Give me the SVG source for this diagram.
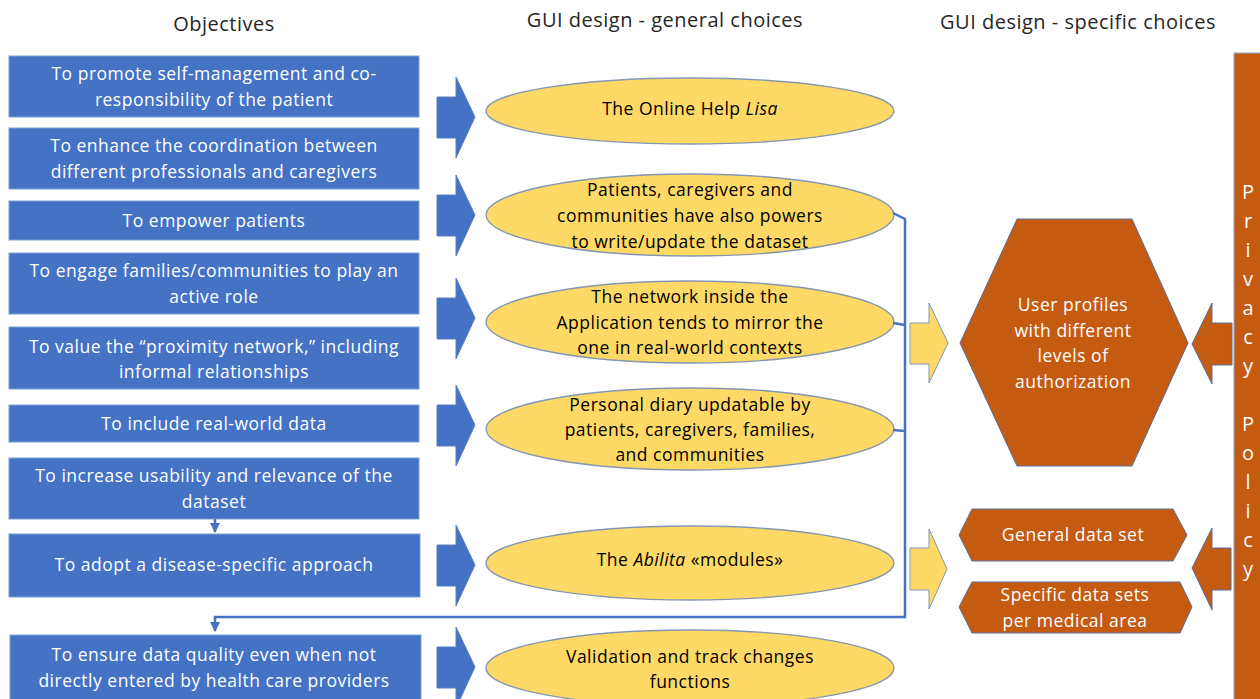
<svg xmlns="http://www.w3.org/2000/svg" width="1260" height="699" viewBox="0 0 1260 699">
<defs>
<style>
.hdr{font-family:"Open Sans","Liberation Sans",sans-serif;font-size:20px;fill:#262626;text-anchor:middle;letter-spacing:0.5px}
.box{fill:#4472C4;stroke:#7F9FD6;stroke-width:1}
.bt{font-family:"Open Sans","Liberation Sans",sans-serif;font-size:17.5px;fill:#ffffff;text-anchor:middle;letter-spacing:0.5px}
.ell{fill:#FFD966;stroke:#8497B0;stroke-width:1.3}
.et{font-family:"Open Sans","Liberation Sans",sans-serif;font-size:17.5px;fill:#000000;text-anchor:middle;letter-spacing:0.5px}
.barw{fill:#4472C4;stroke:#5B7FC0;stroke-width:1}
.ya{fill:#FFD966;stroke:#8497B0;stroke-width:1}
.org{fill:#C55A11;stroke:#5B6E9C;stroke-width:1}
.ot{font-family:"Open Sans","Liberation Sans",sans-serif;font-size:17.5px;fill:#ffffff;text-anchor:middle;letter-spacing:0.5px}
.pt{font-family:"Open Sans","Liberation Sans",sans-serif;font-size:20px;fill:#ffffff;text-anchor:middle}
.con{fill:none;stroke:#4472C4;stroke-width:2.5}
</style>
<marker id="ah" viewBox="0 0 10 10" refX="9" refY="5" markerWidth="4" markerHeight="4" orient="auto" markerUnits="strokeWidth">
<path d="M0,0 L10,5 L0,10 z" fill="#4472C4"/>
</marker>
</defs>
<rect width="1260" height="699" fill="#ffffff"/>

<g id="headers">
<text class="hdr" x="224" y="31">Objectives</text>
<text class="hdr" x="665" y="27">GUI design - general choices</text>
<text class="hdr" x="1078" y="29">GUI design - specific choices</text>
</g>

<g id="obj1"><rect class="box" x="9" y="56" width="410" height="61"/>
<text class="bt" x="214" y="80">To promote self-management and co-</text>
<text class="bt" x="214" y="106">responsibility of the patient</text></g>
<g id="obj2"><rect class="box" x="9" y="128" width="410" height="61"/>
<text class="bt" x="214" y="152">To enhance the coordination between</text>
<text class="bt" x="214" y="178">different professionals and caregivers</text></g>
<g id="obj3"><rect class="box" x="9" y="201" width="410" height="39"/>
<text class="bt" x="214" y="227">To empower patients</text></g>
<g id="obj4"><rect class="box" x="9" y="253" width="410" height="61"/>
<text class="bt" x="214" y="277">To engage families/communities to play an</text>
<text class="bt" x="214" y="303">active role</text></g>
<g id="obj5"><rect class="box" x="9" y="327" width="410" height="62"/>
<text class="bt" x="214" y="353">To value the “proximity network,” including</text>
<text class="bt" x="214" y="378">informal relationships</text></g>
<g id="obj6"><rect class="box" x="9" y="405" width="410" height="37"/>
<text class="bt" x="214" y="430">To include real-world data</text></g>
<g id="obj7"><rect class="box" x="9" y="458" width="410" height="61"/>
<text class="bt" x="214" y="482">To increase usability and relevance of the</text>
<text class="bt" x="214" y="508">dataset</text></g>
<g id="obj8"><rect class="box" x="9" y="534" width="411" height="63"/>
<text class="bt" x="214" y="571">To adopt a disease-specific  approach</text></g>
<g id="obj9"><rect class="box" x="10" y="635" width="411" height="70"/>
<text class="bt" x="214" y="661">To ensure data quality even when not</text>
<text class="bt" x="214" y="687">directly entered by health care providers</text></g>

<g id="blue-arrows">
<path class="barw" d="M437,97 H456 V77 L475,117 L456,158 V138 H437 Z"/>
<path class="barw" d="M437,195 H456 V175 L475,215 L456,256 V236 H437 Z"/>
<path class="barw" d="M437,298 H456 V278 L475,318 L456,359 V339 H437 Z"/>
<path class="barw" d="M437,405 H456 V385 L475,425 L456,466 V446 H437 Z"/>
<path class="barw" d="M437,545 H456 V525 L475,565 L456,606 V586 H437 Z"/>
<path class="barw" d="M437,647 H456 V627 L475,667 L456,708 V688 H437 Z"/>
</g>

<g id="gen1"><ellipse class="ell" cx="690" cy="111" rx="204" ry="33"/>
<text class="et" x="690" y="115">The Online Help <tspan font-style="italic">Lisa</tspan></text></g>
<g id="gen2"><ellipse class="ell" cx="690" cy="215" rx="204" ry="41"/>
<text class="et" x="690" y="196">Patients, caregivers and</text>
<text class="et" x="690" y="222">communities have also powers</text>
<text class="et" x="690" y="248">to write/update the dataset</text></g>
<g id="gen3"><ellipse class="ell" cx="690" cy="322" rx="204" ry="41"/>
<text class="et" x="690" y="303">The network inside the</text>
<text class="et" x="690" y="329">Application tends to mirror the</text>
<text class="et" x="690" y="354">one in real-world contexts</text></g>
<g id="gen4"><ellipse class="ell" cx="690" cy="429" rx="204" ry="41"/>
<text class="et" x="690" y="411">Personal diary updatable by</text>
<text class="et" x="690" y="436">patients, caregivers, families,</text>
<text class="et" x="690" y="461">and communities</text></g>
<g id="gen5"><ellipse class="ell" cx="690" cy="563" rx="204" ry="37"/>
<text class="et" x="690" y="566">The <tspan font-style="italic">Abilita</tspan> «modules»</text></g>
<g id="gen6"><ellipse class="ell" cx="690" cy="668" rx="204" ry="38"/>
<text class="et" x="690" y="663">Validation and track changes</text>
<text class="et" x="690" y="688">functions</text></g>

<g id="connectors">
<path class="con" d="M893,213 L905,219 V617 H215 V631" marker-end="url(#ah)"/>
<path class="con" d="M893,323 L905,325"/>
<path class="con" d="M893,430 L905,431"/>
<path class="con" d="M215,519 V532" stroke-width="2" marker-end="url(#ah)"/>
</g>

<g id="yellow-arrows">
<path class="ya" d="M910,323 H929 V303 L948,343 L929,383 V364 H910 Z"/>
<path class="ya" d="M910,548 H929 V529 L947,569 L929,609 V590 H910 Z"/>
</g>

<g id="user-profiles"><path class="org" d="M1017,219 H1132 L1188,343 L1132,466 H1017 L960,343 Z"/>
<text class="ot" x="1073" y="311">User profiles</text>
<text class="ot" x="1073" y="337">with different</text>
<text class="ot" x="1073" y="362">levels of</text>
<text class="ot" x="1073" y="388">authorization</text></g>

<g id="general-data"><path class="org" d="M972,509 H1173 L1187,535 L1173,561 H972 L959,535 Z"/>
<text class="ot" x="1073" y="541">General data set</text></g>
<g id="specific-data"><path class="org" d="M972,582 H1180 L1192,607 L1180,633 H972 L959,607 Z"/>
<text class="ot" x="1075" y="601">Specific data sets</text>
<text class="ot" x="1075" y="627">per medical area</text></g>

<g id="orange-arrows">
<path class="org" d="M1232,323 H1212 V303 L1192,344 L1212,384 V365 H1232 Z"/>
<path class="org" d="M1231,548 H1212 V528 L1192,568 L1212,610 V590 H1231 Z"/>
</g>

<g id="privacy-policy"><rect x="1234" y="53" width="30" height="660" fill="#C55A11" stroke="#8FAADC" stroke-width="1"/>
<text class="pt" x="1248" y="199">P</text>
<text class="pt" x="1248" y="228">r</text>
<text class="pt" x="1248" y="257">i</text>
<text class="pt" x="1248" y="286">v</text>
<text class="pt" x="1248" y="315">a</text>
<text class="pt" x="1248" y="344">c</text>
<text class="pt" x="1248" y="373">y</text>
<text class="pt" x="1248" y="431">P</text>
<text class="pt" x="1248" y="460">o</text>
<text class="pt" x="1248" y="489">l</text>
<text class="pt" x="1248" y="518">i</text>
<text class="pt" x="1248" y="547">c</text>
<text class="pt" x="1248" y="576">y</text></g>
</svg>
